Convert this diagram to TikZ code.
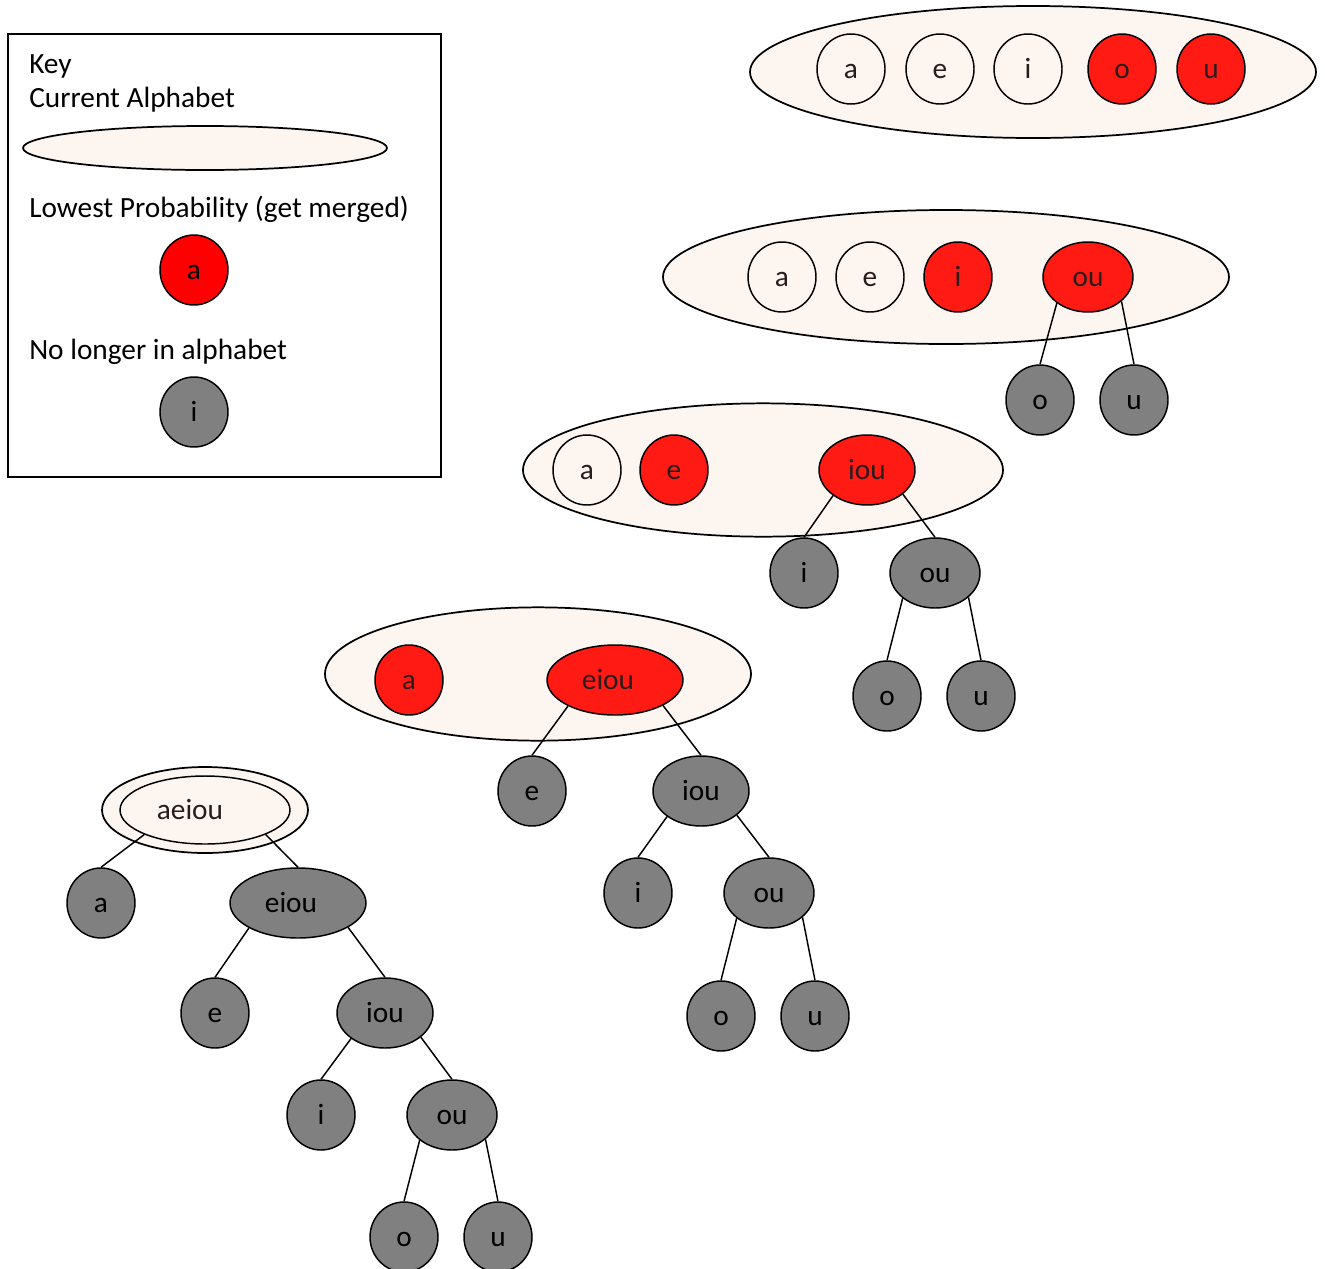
\documentclass[tikz,border=0pt]{standalone}
\usepackage{fontspec}
\setmainfont{Carlito}
\usetikzlibrary{shapes.geometric}
\definecolor{shell}{HTML}{FDF5F0}
\definecolor{mred}{HTML}{FF1A14}
\definecolor{kred}{HTML}{FF0000}
\definecolor{mgray}{HTML}{808080}
\definecolor{ink}{HTML}{2A1C1C}
\begin{document}
\begin{tikzpicture}[x=0.75pt,y=-0.75pt,
  every node/.style={font=\fontsize{22}{26}\selectfont},
  base/.style={ellipse,draw=black,line width=1.1pt,inner sep=0pt,text=ink,text height=14pt,text depth=0pt},
  circ/.style={base,minimum width=51pt,minimum height=52.5pt},
  wide2/.style={base,minimum width=67.5pt,minimum height=52.5pt},
  wide3/.style={base,minimum width=72pt,minimum height=52.5pt},
  wide4/.style={base,minimum width=102pt,minimum height=52.5pt},
  open/.style={fill=shell},
  low/.style={fill=mred},
  gone/.style={fill=mgray,text=black},
  alph/.style={ellipse,draw=black,line width=1.3pt,fill=shell,inner sep=0pt},
  edge/.style={line width=1.1pt,draw=black},
  keytext/.style={anchor=west,text=black,inner sep=0pt}
]
\useasboundingbox (0,0) rectangle (1325,1268);

% ---------- Key ----------
\node[draw=black,line width=1.1pt,minimum width=324.75pt,minimum height=332.25pt,inner sep=0pt] (keybox) at (224.5,255.5) {};
\node[keytext] (kt1) at (29,66) {Key};
\node[keytext] (kt2) at (29,100) {Current Alphabet};
\node[alph,minimum width=273pt,minimum height=33pt] (kell) at (205,148) {};
\node[keytext] (kt3) at (29,209) {Lowest Probability (get merged)};
\node[circ,fill=kred,text=black] (kred) at (194,270) {a};
\node[keytext] (kt4) at (29,352) {No longer in alphabet};
\node[circ,gone] (kgray) at (194,412) {i};

% ---------- Level 1 ----------
\node[alph,minimum width=424.5pt,minimum height=99pt] (A1) at (1033,72) {};
\node[circ,open] (a1) at (851,69) {a};
\node[circ,open] (e1) at (940,69) {e};
\node[circ,open] (i1) at (1028,69) {i};
\node[circ,low] (o1) at (1122,69) {o};
\node[circ,low] (u1) at (1211,69) {u};

% ---------- Level 2 ----------
\node[alph,minimum width=424.5pt,minimum height=100.5pt] (A2) at (946,277) {};
\node[circ,open] (a2) at (782,277) {a};
\node[circ,open] (e2) at (870,277) {e};
\node[circ,low] (i2) at (958,277) {i};
\node[wide2,low] (ou2) at (1088,277) {ou};
\node[circ,gone] (o2) at (1040,400) {o};
\node[circ,gone] (u2) at (1134,400) {u};
\draw[edge] (ou2.-140) -- (o2.north);
\draw[edge] (ou2.-36) -- (u2.north);

% ---------- Level 3 ----------
\node[alph,minimum width=360pt,minimum height=100pt] (A3) at (763,470) {};
\node[circ,open] (a3) at (587,470) {a};
\node[circ,low] (e3) at (674,470) {e};
\node[wide3,low] (iou3) at (867,470) {iou};
\node[circ,gone] (i3) at (804,573) {i};
\node[wide2,gone] (ou3) at (935,573) {ou};
\node[circ,gone] (o3) at (887,696) {o};
\node[circ,gone] (u3) at (981,696) {u};
\draw[edge] (iou3.-143) -- (i3.north);
\draw[edge] (iou3.-34) -- (ou3.north);
\draw[edge] (ou3.-142) -- (o3.north);
\draw[edge] (ou3.-36) -- (u3.north);

% ---------- Level 4 ----------
\node[alph,minimum width=319.5pt,minimum height=100pt] (A4) at (538,674) {};
\node[circ,low] (a4) at (409,680) {a};
\node[wide4,low] (eiou4) at (615,680) {\hspace*{-10.5pt}eiou};
\node[circ,gone] (e4) at (532,791) {e};
\node[wide3,gone] (iou4) at (701,791) {iou};
\node[circ,gone] (i4) at (638,893) {i};
\node[wide2,gone] (ou4) at (769,893) {ou};
\node[circ,gone] (o4) at (721,1016) {o};
\node[circ,gone] (u4) at (815,1016) {u};
\draw[edge] (eiou4.-151) -- (e4.north);
\draw[edge] (eiou4.-28) -- (iou4.north);
\draw[edge] (iou4.-143) -- (i4.north);
\draw[edge] (iou4.-34) -- (ou4.north);
\draw[edge] (ou4.-142) -- (o4.north);
\draw[edge] (ou4.-36) -- (u4.north);

% ---------- Level 5 ----------
\node[alph,minimum width=154.5pt,minimum height=64.5pt] (A5) at (205,810) {};
\node[base,fill=shell,minimum width=127.5pt,minimum height=51pt] (aeiou5) at (205,810) {\hspace*{-22.5pt}aeiou};
\node[circ,gone] (a5) at (101,903) {a};
\node[wide4,gone] (eiou5) at (298,903) {\hspace*{-10.5pt}eiou};
\node[circ,gone] (e5) at (215,1013) {e};
\node[wide3,gone] (iou5) at (385,1013) {iou};
\node[circ,gone] (i5) at (321,1115) {i};
\node[wide2,gone] (ou5) at (452,1115) {ou};
\node[circ,gone] (o5) at (404,1237) {o};
\node[circ,gone] (u5) at (498,1237) {u};
\draw[edge] (aeiou5.-158) -- (a5.north);
\draw[edge] (aeiou5.-22) -- (eiou5.north);
\draw[edge] (eiou5.-153) -- (e5.north);
\draw[edge] (eiou5.-26) -- (iou5.north);
\draw[edge] (iou5.-143) -- (i5.north);
\draw[edge] (iou5.-34) -- (ou5.north);
\draw[edge] (ou5.-142) -- (o5.north);
\draw[edge] (ou5.-36) -- (u5.north);
\end{tikzpicture}
\end{document}
